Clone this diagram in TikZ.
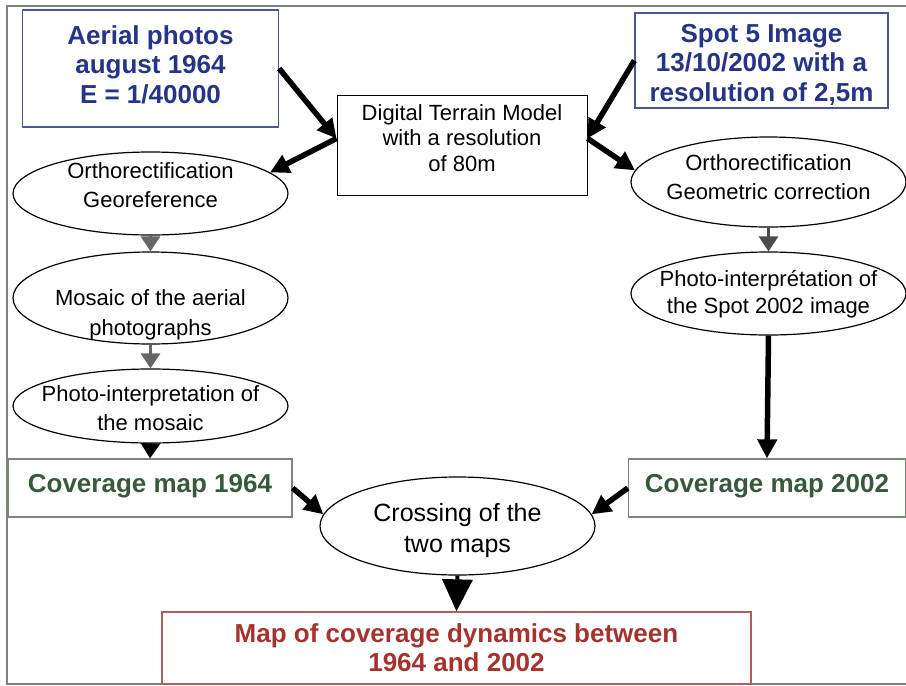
\documentclass[tikz,border=0pt]{standalone}
\usepackage{fontspec}
\setmainfont{Liberation Sans}
\usetikzlibrary{shapes.geometric,arrows.meta}
\definecolor{navytext}{RGB}{38,52,135}
\definecolor{navyline}{RGB}{75,88,140}
\definecolor{greentext}{RGB}{55,90,60}
\definecolor{greenline}{RGB}{120,135,120}
\definecolor{redtext}{RGB}{165,50,45}
\definecolor{redline}{RGB}{175,95,95}
\begin{document}
\begin{tikzpicture}[x=1pt,y=-1pt,
  srcbox/.style={draw=navyline,line width=1.3pt,text=navytext,inner sep=0pt,align=center,
    font=\fontsize{26}{29.5}\selectfont\bfseries},
  mapbox/.style={draw=greenline,line width=1.3pt,text=greentext,inner sep=0pt,align=center,
    text height=33pt,text depth=25pt,font=\fontsize{26}{28}\selectfont\bfseries},
  plainbox/.style={draw,line width=1pt,inner sep=0pt,align=center,
    font=\fontsize{22}{25.5}\selectfont},
  stage/.style={draw,ellipse,line width=1.2pt,inner sep=-20pt,align=center,
    minimum width=275pt,font=\fontsize{22}{29}\selectfont},
  bigarrow/.style={line width=5.5pt,-{Triangle[length=19pt,width=19pt]}},
  greyarrow/.style={line width=3pt,gray!80!black,-{Triangle[length=15pt,width=19pt]}}]
\useasboundingbox (0,0) rectangle (906,686);
\draw[gray,line width=1.5pt] (906,6) -- (7,6) -- (7,684) -- (906,684);
% sources
\node[srcbox,minimum width=256pt,text height=93pt,text depth=24pt] (aerial) at (150.5,68.5) {Aerial photos\\august 1964\\E = 1/40000};
\node[srcbox,minimum width=253pt,text height=88pt,text depth=7pt] (spot) at (761.5,60.5) {Spot 5 Image\\13/10/2002 with a\\resolution of 2,5m};
\node[plainbox,minimum width=250pt,text height=76pt,text depth=24pt] (dtm) at (462,145) {Digital Terrain Model\\with a resolution\\of 80m};
% left branch
\node[stage,minimum height=83pt,text height=47pt,text depth=20pt] (orthoA) at (150.5,193.5) {Orthorectification\\Georeference};
\node[stage,minimum height=92pt,text height=84pt,text depth=10pt,font=\fontsize{22}{30}\selectfont] (mosaicA) at (150.5,298) {Mosaic of the aerial\\photographs};
\node[stage,minimum height=74pt,text height=58pt,text depth=10pt] (photoA) at (150.5,406) {Photo-interpretation of\\the mosaic};
\node[mapbox,minimum width=284pt] (covA) at (150,488) {Coverage map 1964};
% right branch
\node[stage,minimum height=90pt,text height=50pt,text depth=16pt] (orthoB) at (768.5,182) {Orthorectification\\Geometric correction};
\node[stage,minimum height=83pt,text height=52pt,text depth=13pt,font=\fontsize{22}{27}\selectfont] (photoB) at (768.5,293.5) {Photo-interprétation of\\the Spot 2002 image};
\node[mapbox,minimum width=277pt] (covB) at (767,488) {Coverage map 2002};
% result
\node[stage,minimum width=275pt,minimum height=98pt,text height=62pt,text depth=10pt,font=\fontsize{25}{31}\selectfont] (cross) at (457.5,526) {Crossing of the\\two maps};
\node[draw=redline,line width=1.3pt,text=redtext,inner sep=0pt,align=center,minimum width=589pt,
  text height=59pt,text depth=13pt,font=\fontsize{26}{29}\selectfont\bfseries] (final) at (456.5,648) {Map of coverage dynamics between\\1964 and 2002};
% arrows
\draw[bigarrow] (aerial.east) -- (dtm.177);
\draw[bigarrow] (dtm.177) -- (orthoA.10);
\draw[bigarrow] (spot.west) -- (dtm.3);
\draw[bigarrow] (dtm.3) -- (orthoB.175);
\draw[greyarrow] (orthoA.south) -- (mosaicA.north);
\draw[greyarrow] (mosaicA.south) -- (photoA.north);
\draw[greyarrow,black] (photoA.south) -- (covA.north);
\draw[greyarrow,gray!60!black] (orthoB.south) -- (photoB.north);
\draw[bigarrow] (photoB.south) -- (covB.north);
\draw[bigarrow] (covA.east) -- (cross.175);
\draw[bigarrow] (covB.west) -- (cross.5);
\draw[line width=4pt,-{Triangle[length=32pt,width=30pt]}] (cross.south) -- (final.north);
\end{tikzpicture}
\end{document}
